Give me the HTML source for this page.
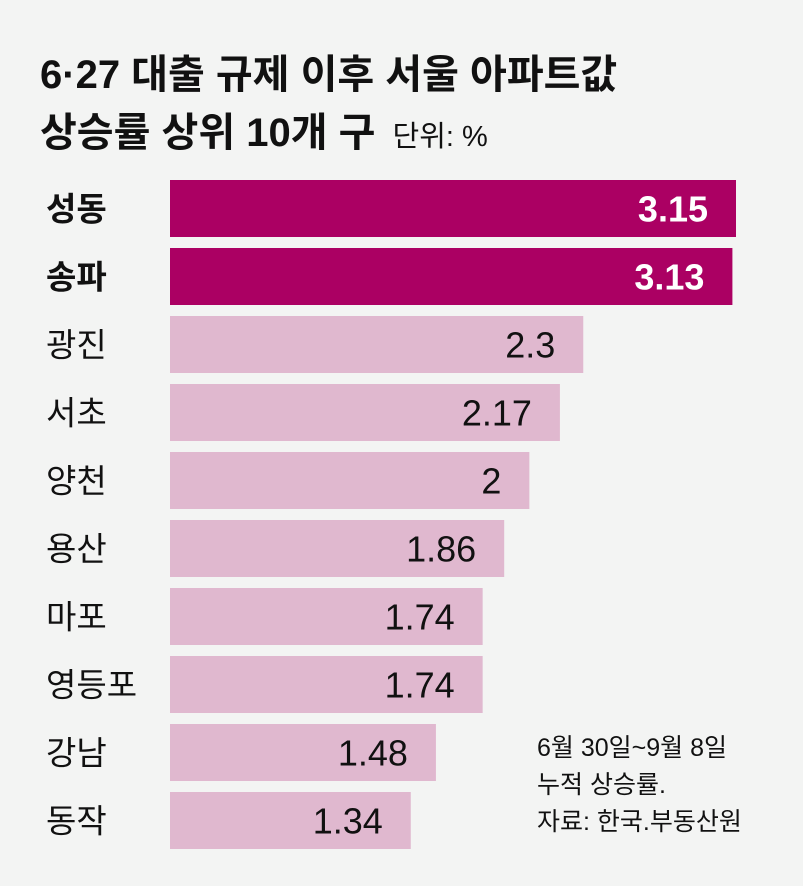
<!DOCTYPE html>
<html><head><meta charset="utf-8"><style>
body{margin:0;width:803px;height:886px;background:#f3f4f3;font-family:"Liberation Sans","Noto Sans CJK KR",sans-serif;overflow:hidden}
svg{display:block}
</style></head><body>
<svg width="803" height="886">
<text x="40" y="88" font-size="40" font-weight="bold" fill="#111">6·27 대출 규제 이후 서울 아파트값</text>
<text x="40" y="146" font-size="40" font-weight="bold" fill="#111">상승률 상위 10개 구 <tspan font-size="29" font-weight="normal" dx="6">단위: %</tspan></text>
<g id="bars"></g>
<text x="537" y="756" font-size="25" fill="#111">6월 30일~9월 8일</text>
<text x="537" y="793" font-size="25" fill="#111">누적 상승률.</text>
<text x="537" y="830" font-size="25" fill="#111">자료: 한국.부동산원</text>
</svg>
<script>
const categories=["성동","송파","광진","서초","양천","용산","마포","영등포","강남","동작"];
const values=[3.15,3.13,2.3,2.17,2,1.86,1.74,1.74,1.48,1.34];
const labels=["3.15","3.13","2.3","2.17","2","1.86","1.74","1.74","1.48","1.34"];
const highlighted=[true,true,false,false,false,false,false,false,false,false];
const ns="http://www.w3.org/2000/svg";
const g=document.getElementById('bars');
const x0=170,scale=566/3.15,top0=180,pitch=68,bh=57;
const xs=v=>v*scale;
const ys=i=>top0+i*pitch;
categories.forEach((c,i)=>{
  const y=ys(i),w=xs(values[i]);
  const r=document.createElementNS(ns,'rect');
  r.setAttribute('x',x0);r.setAttribute('y',y);r.setAttribute('width',w);r.setAttribute('height',bh);
  r.setAttribute('fill',highlighted[i]?'#ab0063':'#e0b8cf');
  
  
  g.appendChild(r);
  const l=document.createElementNS(ns,'text');
  l.setAttribute('x',46);l.setAttribute('y',y+bh/2+12);l.setAttribute('font-size','33');
  l.setAttribute('font-weight',highlighted[i]?'bold':'normal');l.setAttribute('fill','#111');
  l.textContent=c;
  
  
  g.appendChild(l);
  const t=document.createElementNS(ns,'text');
  t.setAttribute('x',x0+w-28);t.setAttribute('y',y+bh/2+13);t.setAttribute('font-size','36');
  t.setAttribute('text-anchor','end');t.setAttribute('fill',highlighted[i]?'#fff':'#111');
  if(highlighted[i])t.setAttribute('font-weight','bold');
  t.textContent=labels[i];
  
  
  g.appendChild(t);
});
</script>
</body></html>
